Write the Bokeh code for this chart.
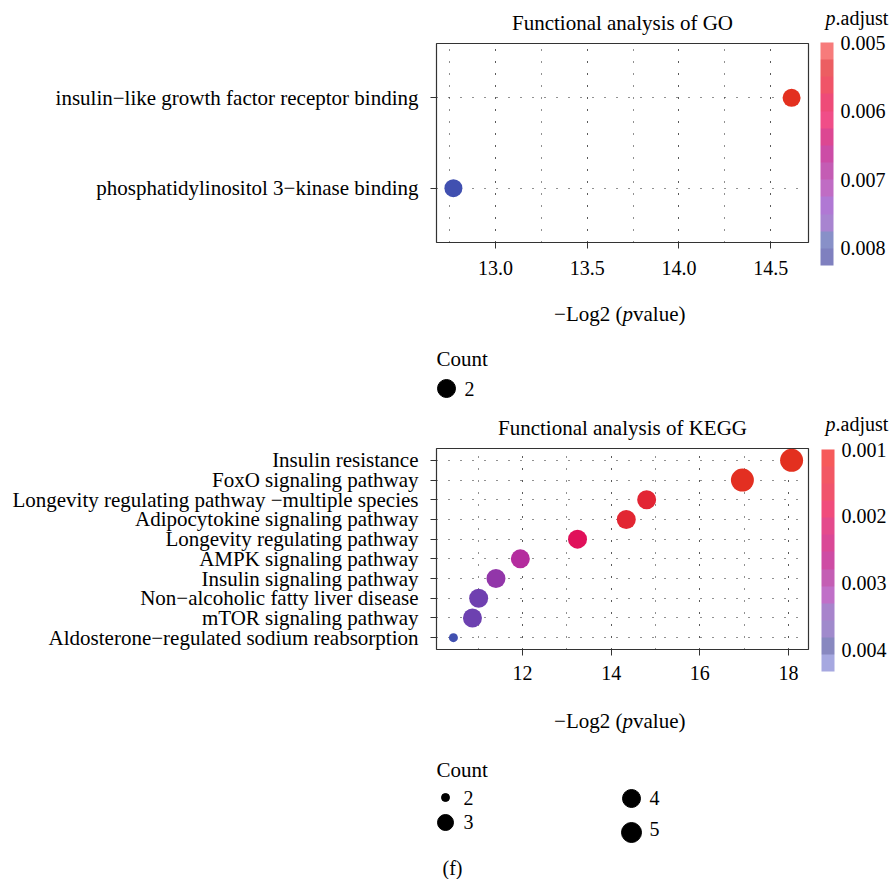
from bokeh.plotting import figure
from bokeh.models import (Range1d, FixedTicker, SingleIntervalTicker, NumeralTickFormatter,
                          LinearColorMapper, ColorBar, ColumnDataSource, CustomJSTickFormatter,
                          AllLabels)
from bokeh.layouts import column, row
from bokeh.embed import file_html
from bokeh.resources import INLINE
from bokeh.core.properties import value

FONT = "Liberation Serif"
MINUS = "\u2212"

# ---------------- data ----------------
GO_TERMS = ["insulin" + MINUS + "like growth factor receptor binding",
            "phosphatidylinositol 3" + MINUS + "kinase binding"]
GO_LOG2P = [14.614, 12.771]
GO_PADJ = [0.00499, 0.00826]
GO_COUNT = [2, 2]
GO_CB_TICKS = [0.005, 0.006, 0.007, 0.008]

KEGG_TERMS = ["Insulin resistance",
              "FoxO signaling pathway",
              "Longevity regulating pathway " + MINUS + "multiple species",
              "Adipocytokine signaling pathway",
              "Longevity regulating pathway",
              "AMPK signaling pathway",
              "Insulin signaling pathway",
              "Non" + MINUS + "alcoholic fatty liver disease",
              "mTOR signaling pathway",
              "Aldosterone" + MINUS + "regulated sodium reabsorption"]
KEGG_LOG2P = [18.07, 16.96, 14.80, 14.34, 13.24, 11.95, 11.40, 11.01, 10.87, 10.44]
KEGG_PADJ = [0.00100, 0.00103, 0.00124, 0.00121, 0.00167, 0.00267, 0.00317, 0.00367, 0.00370, 0.00433]
KEGG_COUNT = [5, 5, 4, 4, 4, 4, 4, 4, 4, 2]
KEGG_CB_TICKS = [0.001, 0.002, 0.003, 0.004]

GO_LEGEND_COUNTS = [2]
KEGG_LEGEND_COUNTS = [2, 3, 4, 5]

# ---------------- styles ----------------
GO_SIZE_PX = {2: 18}
KEGG_SIZE_PX = {2: 9, 3: 15, 4: 19, 5: 23}
GO_LEG_SIZE_PX = {2: 18}
KEGG_LEG_SIZE_PX = {2: 8, 3: 16, 4: 18, 5: 20}

POINT_STOPS = [(0.0, "#E3301F"), (0.2, "#E0105A"), (0.5, "#B42C9E"),
               (0.75, "#7C3CB0"), (1.0, "#4150B0")]
GO_BAR_COLORS = ["#F77B7B", "#EC5E62", "#F05468", "#EE4B78", "#F04E88", "#DC4792",
                 "#CC4CA6", "#C45CB4", "#C06CC4", "#B078D4", "#A884D0", "#8890C8", "#7F80BF"]
KEGG_BAR_COLORS = ["#F65A5A", "#F25864", "#F0546C", "#F04C7C", "#E44A8C", "#DA4896",
                   "#CE4CA4", "#C45EB4", "#C070C8", "#A884CC", "#A08ACC", "#8888C0", "#A6A8E0"]

W = 890
FRAME_L, FRAME_R = 436, 808
MAIN_W = FRAME_R + 2
SIDE_W = W - MAIN_W
GRID_COLOR = "#222222"


def hex2rgb(h):
    return tuple(int(h[i:i + 2], 16) for i in (1, 3, 5))


def ramp(stops, n=256):
    out = []
    for k in range(n):
        t = k / (n - 1)
        for (t0, c0), (t1, c1) in zip(stops, stops[1:]):
            if t0 <= t <= t1:
                f = (t - t0) / (t1 - t0)
                a, b = hex2rgb(c0), hex2rgb(c1)
                out.append("#%02x%02x%02x" % tuple(round(a[i] + (b[i] - a[i]) * f) for i in range(3)))
                break
    return out


POINT_PALETTE = ramp(POINT_STOPS)


def blank_fig(width, height, x0, x1, **kw):
    p = figure(width=width, height=height, x_range=Range1d(x0, x1),
               y_range=Range1d(height, 0), x_axis_location=None, y_axis_location=None,
               toolbar_location=None, output_backend="svg", **kw)
    p.frame_align = False
    p.grid.visible = False
    p.outline_line_color = None
    p.background_fill_color = "white"
    p.border_fill_color = "white"
    return p


def txt(p, x, y, s, align="left", style="normal", size="21px"):
    p.text(x=[x], y=[y], text=[s], text_font=value(FONT), text_font_size=size,
           text_align=align, text_baseline="middle", text_color="black",
           text_font_style=style)


def panel(terms, log2p, padj, counts, size_px, height, top, frame_h, interval, fmt, x_standoff,
          title, title_standoff, title_valign):
    n = len(terms)
    ys = [n - i for i in range(n)]
    span = max(log2p) - min(log2p)
    xr = Range1d(min(log2p) - 0.05 * span, max(log2p) + 0.05 * span)
    yr = Range1d(0.4, n + 0.6)
    p = figure(width=MAIN_W, height=height, x_range=xr, y_range=yr,
               min_border_left=FRAME_L, min_border_right=MAIN_W - FRAME_R,
               min_border_top=top, min_border_bottom=height - top - frame_h,
               toolbar_location=None, output_backend="svg")
    p.frame_align = False
    p.background_fill_color = "white"
    p.border_fill_color = "white"
    p.outline_line_color = "#333333"
    p.outline_line_width = 1.2

    p.title.text = title
    p.title.align = "center"
    p.title.text_font = FONT
    p.title.text_font_size = "21px"
    p.title.text_font_style = "normal"
    p.title.text_color = "black"
    p.title.standoff = title_standoff
    p.title.vertical_align = title_valign

    mapper = LinearColorMapper(palette=POINT_PALETTE, low=min(padj), high=max(padj))
    src = ColumnDataSource(dict(x=log2p, y=ys, padj=padj,
                                size=[size_px[c] for c in counts]))
    p.scatter("x", "y", source=src, size="size", line_color=None,
              fill_color={"field": "padj", "transform": mapper})

    p.xaxis.ticker = SingleIntervalTicker(interval=interval, num_minor_ticks=2)
    p.xaxis.formatter = NumeralTickFormatter(format=fmt)
    p.yaxis.ticker = FixedTicker(ticks=ys)
    p.yaxis.major_label_overrides = {y: t for y, t in zip(ys, terms)}
    for ax in (p.xaxis, p.yaxis):
        ax.axis_line_color = None
        ax.major_tick_in = 0
        ax.major_tick_out = 6
        ax.major_tick_line_color = "#333333"
        ax.minor_tick_line_color = None
        ax.major_label_text_font = FONT
        ax.major_label_text_color = "black"
    p.xaxis.major_label_text_font_size = "20px"
    p.xaxis.major_label_standoff = x_standoff
    p.yaxis.major_label_text_font_size = "21px"
    p.yaxis.major_label_standoff = 12

    p.xgrid.grid_line_color = GRID_COLOR
    p.xgrid.grid_line_dash = "1 11"
    p.xgrid.minor_grid_line_color = GRID_COLOR
    p.xgrid.minor_grid_line_dash = "1 11"
    p.ygrid.grid_line_color = GRID_COLOR
    p.ygrid.grid_line_dash = "1 11"
    return p


def side_fig(height, padj, cb_colors, cb_ticks, padj_y, bar_left, bar_top, bar_h):
    p = blank_fig(SIDE_W, height, MAIN_W, W, min_border=0)
    txt(p, 825, padj_y, "p", style="italic", size="20px")
    txt(p, 835, padj_y, ".adjust", size="20px")
    # colour bar: top = smallest p.adjust
    cb_mapper = LinearColorMapper(palette=list(reversed(cb_colors)),
                                  low=-max(padj), high=-min(padj))
    cb = ColorBar(color_mapper=cb_mapper, location=(bar_left - MAIN_W, height - bar_top - bar_h),
                  orientation="vertical", width=13, height=bar_h,
                  ticker=FixedTicker(ticks=[-t for t in cb_ticks]),
                  formatter=CustomJSTickFormatter(code="return (-tick).toFixed(3)"),
                  major_label_policy=AllLabels(),
                  major_label_text_font=FONT, major_label_text_font_size="20px",
                  major_label_text_color="black",
                  label_standoff=7, major_tick_line_color=None, minor_tick_line_color=None,
                  bar_line_color=None, border_line_color=None,
                  background_fill_alpha=0, margin=0, padding=0)
    p.add_layout(cb, "center")
    return p


def strip_fig(height, xlab_y, counts, size_px, xs, ys, tys, count_y, tag_y=None):
    p = blank_fig(W, height, FRAME_L, FRAME_R, min_border_left=FRAME_L,
                  min_border_right=W - FRAME_R, min_border_top=0, min_border_bottom=0)
    piv = 622
    txt(p, piv, xlab_y, MINUS + "Log2 (", align="right")
    txt(p, piv, xlab_y, "p", style="italic")
    txt(p, piv + 10.5, xlab_y, "value)")

    txt(p, 436, count_y, "Count")
    p.scatter(x=xs, y=ys, size=[size_px[c] for c in counts], color="black")
    p.text(x=[x + 18 for x in xs], y=tys, text=[str(c) for c in counts], text_font=value(FONT),
           text_font_size="20px", text_baseline="middle", text_color="black")
    if tag_y is not None:
        txt(p, 442, tag_y, "(f)", size="20px")
    return p


go = panel(GO_TERMS, GO_LOG2P, GO_PADJ, GO_COUNT, GO_SIZE_PX, 290, 43, 199, 0.5, "0.0", 12,
           "Functional analysis of GO", 14, "top")
go_side = side_fig(290, GO_PADJ, GO_BAR_COLORS, GO_CB_TICKS, 17, 820, 42, 223)
go_strip = strip_fig(115, 23, GO_LEGEND_COUNTS, GO_LEG_SIZE_PX, [446], [98], [98], 68)

kegg = panel(KEGG_TERMS, KEGG_LOG2P, KEGG_PADJ, KEGG_COUNT, KEGG_SIZE_PX, 285, 43, 201, 2, "0", 10,
             "Functional analysis of KEGG", 17, "bottom")
kegg_side = side_fig(285, KEGG_PADJ, KEGG_BAR_COLORS, KEGG_CB_TICKS, 18, 821, 44, 222)
kegg_strip = strip_fig(189, 30, KEGG_LEGEND_COUNTS, KEGG_LEG_SIZE_PX, [445, 445, 631, 631],
                       [107, 132, 108, 142], [107, 131, 107, 138], 79, tag_y=177)

layout = column(row(go, go_side, spacing=0), go_strip,
                row(kegg, kegg_side, spacing=0), kegg_strip, spacing=0)
open("out.html", "w").write(file_html(layout, INLINE))
